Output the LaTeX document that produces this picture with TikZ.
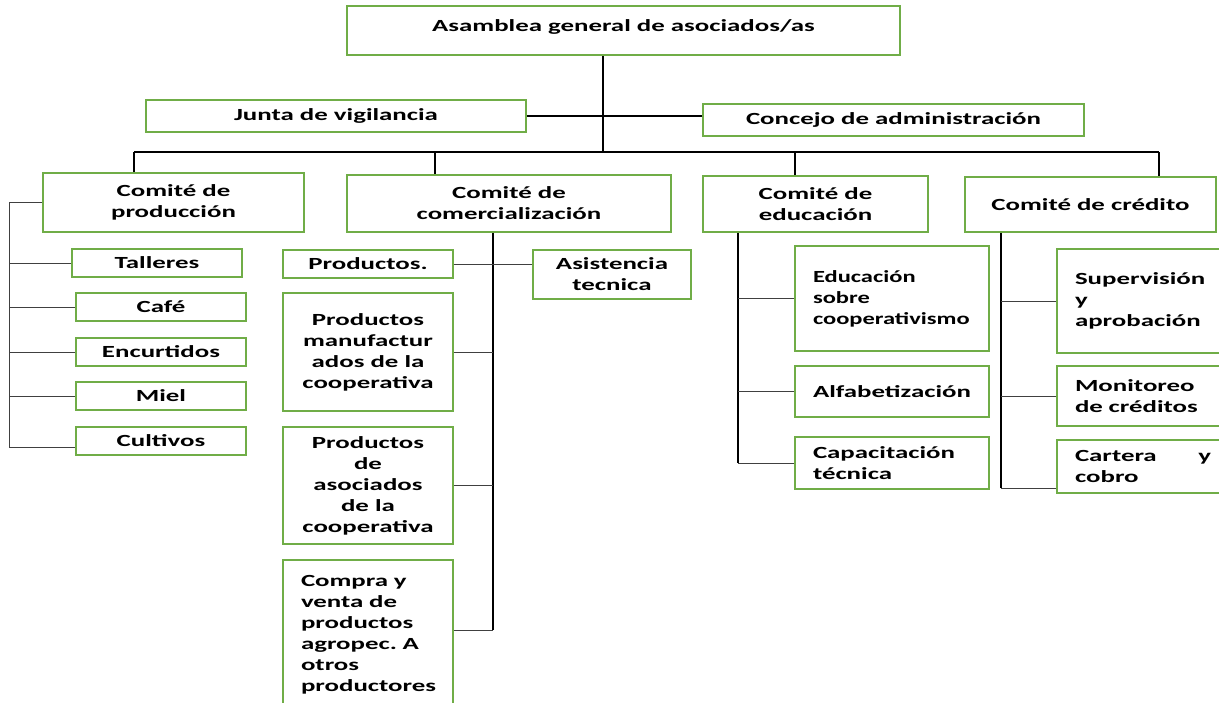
\documentclass[tikz,border=0pt]{standalone}
\usepackage{fontspec}
\setmainfont{Carlito}[FakeStretch=1.58]
\newfontfamily\tightfont{Carlito}[FakeStretch=1.44]
\definecolor{boxgreen}{RGB}{112,173,71}
\tikzset{box/.style={draw=boxgreen, line width=1.8pt, fill=white, inner sep=0pt, align=center, font=\fontsize{17}{21}\selectfont\bfseries},
        lbox/.style={box, align=left},
        bus/.style={line width=2.2pt, draw=black},
        twig/.style={line width=0.9pt, draw=black!75}}

\begin{document}
\begin{tikzpicture}[x=1pt, y=-1pt]
    \useasboundingbox (0,0) rectangle (1219,702);
    \clip (0,0) rectangle (1219,702);

    % top of the chart
    \node[box, minimum width=553, text height=25, text depth=24] (asam) at (623.5,30.5) {Asamblea general de asociados/as};
    \node[box, minimum width=380, minimum height=32] (junta) at (336,116) {Junta de vigilancia};
    \node[box, minimum width=381, minimum height=32] (conc) at (893.5,120) {Concejo de administración};

    % committees
    \node[box, minimum width=261, minimum height=59] (prod) at (173.5,202.5) {Comité de\\producción};
    \node[box, minimum width=324, minimum height=57] (com) at (509,203.5) {Comité de\\comercialización};
    \node[box, minimum width=225, minimum height=56] (edu) at (815.5,204) {Comité de\\educación};
    \node[box, minimum width=251, minimum height=55] (cred) at (1090.5,204.5) {Comité de crédito};

    % production
    \node[box, minimum width=170, minimum height=28] (tal) at (157,263) {Talleres};
    \foreach \n/\t/\y in {caf/Café/307, enc/Encurtidos/352, mie/Miel/396, cul/Cultivos/441}
      \node[box, minimum width=170, minimum height=28] (\n) at (161,\y) {\t};

    % commercialization
    \node[box, minimum width=170, minimum height=28] (prd) at (368,264) {Productos.};
    \node[box, minimum width=170, minimum height=118] (man) at (368,352) {Productos\\manufactur\\ados de la\\cooperativa};
    \node[box, minimum width=170, minimum height=117] (aso) at (368,485.5) {Productos\\de\\asociados\\de la\\cooperativa};
    \node[lbox, minimum width=170, minimum height=150, text width=134] (cmp) at (368,635) {Compra y\\venta de\\productos\\agropec.\ A\\otros\\productores};
    \node[box, minimum width=158, minimum height=49] (asis) at (612,274.5) {Asistencia\\tecnica};

    % education
    \node[lbox, minimum width=194, minimum height=105, text width=158, font=\fontsize{17}{21}\tightfont\bfseries] (eds) at (892,298.5) {Educación\\sobre\\cooperativismo};
    \node[lbox, minimum width=194, minimum height=51, text width=158] (alf) at (892,391.5) {Alfabetización};
    \node[lbox, minimum width=194, minimum height=52, text width=158] (cap) at (892,463) {Capacitación\\técnica};

    % credit
    \node[lbox, minimum width=172, minimum height=104, text width=136] (sup) at (1143,301) {Supervisión\\y\\aprobación};
    \node[lbox, minimum width=172, minimum height=60, text width=136] (mon) at (1143,396) {Monitoreo\\de créditos};
    \node[lbox, minimum width=172, minimum height=53, text width=136] (car) at (1143,466.5) {Cartera\hfill y\\cobro};

    % main lines
    \coordinate (trunk) at (603,152);
    \coordinate (busl) at (134,152);
    \coordinate (busr) at (1159,152);
    \coordinate (b2) at (435,152);
    \coordinate (b3) at (795,152);
    \draw[bus] (trunk |- asam.south) -- (trunk);
    \draw[line width=1.2pt] (junta.east) -- (junta.east -| conc.west);
    \draw[bus] (busl) -- (busr);
    \draw[bus] (busl) -- (busl |- prod.north);
    \draw[bus] (b2) -- (b2 |- com.north);
    \draw[bus] (b3) -- (b3 |- edu.north);
    \draw[bus] (busr) -- (busr |- cred.north);

    % production branch
    \coordinate (pv) at (9,447);
    \draw[twig] (prod.west) -| (pv) -- (pv -| cul.west);
    \foreach \n in {tal,caf,enc,mie}
      \draw[twig] (\n.west) -- (\n.west -| pv);

    % commercialization branch
    \coordinate (cv) at (493,630);
    \draw[bus] (cv |- com.south) -- (cv);
    \draw[twig] (prd.east) -- (prd.east -| asis.west);
    \foreach \n in {man,aso}
      \draw[twig] (\n.east) -- (\n.east -| cv);
    \draw[twig] (cv) -- (cv -| cmp.east);

    % education branch
    \coordinate (ev) at (738,463);
    \draw[bus] (ev |- edu.south) -- (ev);
    \foreach \n in {eds,alf,cap}
      \draw[twig] (\n.west) -- (\n.west -| ev);

    % credit branch
    \coordinate (crv) at (1001,488);
    \draw[bus] (crv |- cred.south) -- (crv);
    \foreach \n in {sup,mon}
      \draw[twig] (\n.west) -- (\n.west -| crv);
    \draw[twig] (crv) -- (crv -| car.west);
\end{tikzpicture}
\end{document}
